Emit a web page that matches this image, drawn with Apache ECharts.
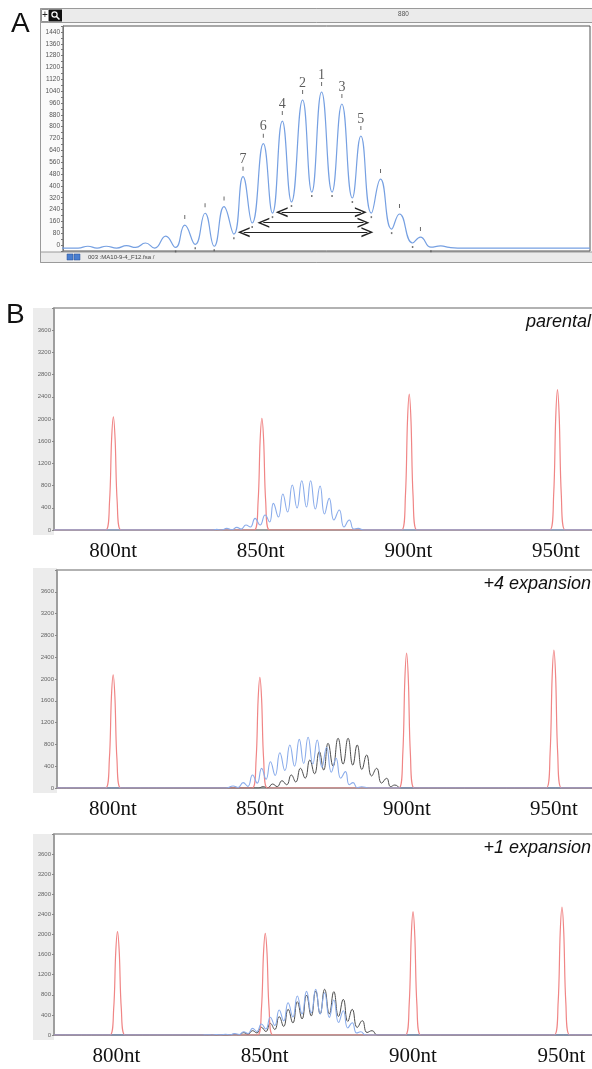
<!DOCTYPE html>
<html><head><meta charset="utf-8">
<script src="https://cdn.jsdelivr.net/npm/echarts@6/dist/echarts.min.js"></script>
<style>html,body{margin:0;padding:0;background:#fff}#c{width:592px;height:1069px}</style>
</head><body><div id="c"></div>
<script>
// ---------- Panel A (fragment analysis trace, size in nt / fluorescence units) ----------
const aTraceX = [827.7, 830.3, 831.8, 833.2, 834.6, 836.2, 837.7, 839.1, 840.6, 842.0, 843.7, 845.2, 846.6, 848.2, 849.7, 851.1, 852.6, 854.1, 855.5, 856.9, 858.6, 860.0, 861.5, 862.9, 864.6, 866.0, 867.5, 869.1, 870.6, 872.2, 873.5, 875.1, 876.5, 878.2, 879.4, 881.4, 882.6, 884.2, 885.7, 887.0, 888.3, 908.5];
const aTraceY = [-20, -20, -8, -20, -8, -20, -4, -16, 14, -20, 61, -16, 135, 5, 215, -8, 260, 74, 462, 149, 685, 216, 838, 291, 980, 358, 1034, 358, 953, 318, 737, 216, 446, 108, 210, 14, 54, -14, -6, -16, -20, -20];
const aRankX = [867.5, 864.6, 870.6, 861.5, 873.5, 858.6, 855.5];
const aRankLabel = ['1', '2', '3', '4', '5', '6', '7'];
const aArrowFrom = [861.4, 858.6, 855.6];
const aArrowTo = [873.5, 873.9, 874.5];
const aArrowY = [222, 151, 87];
const aTopTicks = [880];
const aYLabelStep = 80;

// ---------- Panel B (size standard in red, samples in blue / black) ----------
const bSizeLabels = [800, 850, 900, 950];
const bTitles = ['parental', '+4 expansion', '+1 expansion'];
const bYLabelMax = 3600;

const b1RedX = [780, 797.5, 798.8, 799.5, 800.1, 800.7, 801.4, 802.7, 847.8, 849.1, 849.8, 850.4, 851.0, 851.7, 853.0, 897.7, 899.0, 899.7, 900.3, 900.9, 901.6, 902.9, 947.9, 949.2, 949.9, 950.5, 951.1, 951.8, 953.1, 965];
const b1RedY = [0, 0, 510, 1630, 2040, 1630, 510, 0, 0, 500, 1610, 2010, 1610, 500, 0, 0, 610, 1960, 2450, 1960, 610, 0, 0, 630, 2020, 2530, 2020, 630, 0, 0];
const b1BlueX = [780, 833.5, 835.1, 836.8, 838.5, 840.2, 841.9, 843.4, 845.0, 846.5, 848.1, 849.8, 851.5, 853.0, 854.3, 856.0, 857.5, 859.1, 860.7, 862.3, 863.9, 865.5, 866.9, 868.5, 870.1, 871.6, 873.2, 874.8, 876.6, 878.2, 880.0, 881.5, 883.0, 885.0, 965];
const b1BlueY = [0, 0, 12, 0, 30, 5, 48, 15, 90, 54, 210, 90, 270, 144, 480, 234, 648, 324, 810, 396, 887, 414, 887, 378, 792, 288, 570, 180, 360, 54, 180, 18, 30, 0, 0];

const b2RedX = [781, 797.5, 798.8, 799.5, 800.1, 800.7, 801.4, 802.7, 847.4, 848.7, 849.4, 850.0, 850.6, 851.3, 852.6, 897.3, 898.6, 899.3, 899.9, 900.5, 901.2, 902.5, 947.4, 948.7, 949.4, 950.0, 950.6, 951.3, 952.6, 965];
const b2RedY = [0, 0, 520, 1660, 2074, 1660, 520, 0, 0, 510, 1620, 2031, 1620, 510, 0, 0, 620, 1980, 2477, 1980, 620, 0, 0, 630, 2030, 2532, 2030, 630, 0, 0];
const b2BlueX = [781, 838.5, 840.9, 842.6, 844.3, 845.9, 847.5, 849.1, 850.6, 852.1, 853.6, 855.2, 856.8, 858.5, 860.2, 861.8, 863.4, 864.9, 866.4, 868.0, 869.5, 871.1, 872.7, 874.3, 875.9, 877.5, 879.1, 880.4, 881.7, 883.1, 884.6, 887.0, 965];
const b2BlueY = [0, 0, 37, 10, 98, 30, 239, 90, 361, 160, 483, 230, 648, 320, 789, 400, 893, 450, 930, 440, 881, 380, 747, 290, 545, 180, 300, 60, 98, 5, 24, 0, 0];
const b2BlackX = [781, 848.0, 849.5, 851.1, 852.7, 854.3, 855.9, 857.5, 859.1, 860.7, 862.2, 863.8, 865.4, 867.0, 868.6, 870.2, 871.7, 873.2, 874.9, 876.6, 878.3, 880.0, 881.6, 883.1, 884.7, 886.3, 888.0, 889.7, 891.4, 893.1, 894.5, 895.9, 898.0, 965];
const b2BlackY = [0, 0, 0, 24, 5, 73, 25, 134, 60, 239, 110, 361, 180, 514, 260, 667, 330, 820, 400, 912, 440, 912, 420, 789, 340, 606, 220, 361, 90, 178, 25, 55, 0, 0];

const b3RedX = [779, 797.8, 799.1, 799.8, 800.4, 801.0, 801.7, 803.0, 847.6, 848.9, 849.6, 850.2, 850.8, 851.5, 852.8, 897.4, 898.7, 899.4, 900.0, 900.6, 901.3, 902.6, 947.6, 948.9, 949.6, 950.2, 950.8, 951.5, 952.8, 965];
const b3RedY = [0, 0, 510, 1640, 2056, 1640, 510, 0, 0, 510, 1620, 2024, 1620, 510, 0, 0, 610, 1960, 2454, 1960, 610, 0, 0, 640, 2040, 2547, 2040, 640, 0, 0];
const b3BlueX = [779, 829.0, 830.7, 832.2, 833.7, 835.3, 836.8, 838.3, 839.8, 841.4, 842.9, 844.4, 845.9, 847.4, 848.9, 850.4, 851.9, 853.4, 854.9, 856.4, 857.9, 859.5, 861.0, 862.6, 864.1, 865.7, 867.2, 868.7, 870.2, 871.8, 873.3, 874.9, 876.5, 878.0, 879.5, 881.0, 882.4, 884.0, 965];
const b3BlueY = [0, 0, 6, 0, 10, 2, 16, 5, 28, 10, 66, 30, 132, 70, 219, 120, 352, 190, 497, 280, 643, 360, 776, 420, 869, 440, 909, 420, 842, 350, 696, 250, 484, 140, 245, 40, 66, 0, 0];
const b3BlackX = [779, 838.0, 839.8, 841.4, 842.9, 844.4, 845.9, 847.4, 848.9, 850.4, 851.9, 853.4, 854.9, 856.4, 857.9, 859.5, 861.0, 862.6, 864.1, 865.7, 867.2, 868.7, 870.2, 871.8, 873.3, 874.9, 876.5, 878.0, 879.5, 881.2, 882.9, 884.5, 886.2, 888.0, 965];
const b3BlackY = [0, 0, 15, 5, 46, 15, 86, 40, 152, 70, 232, 110, 365, 170, 511, 240, 663, 320, 796, 380, 876, 420, 909, 420, 862, 370, 710, 270, 511, 150, 285, 50, 86, 0, 0];

// ---------- build ----------
const pairs = (xs, ys) => xs.map((x, i) => [x, ys[i]]);
const SANS = 'Liberation Sans';
const SERIF = 'Liberation Serif';
const RED = '#f08585', BLUE = '#8aaceb', BLACK = '#4d4d4d', ABLUE = '#76a0e2';
const CHEVRON = 'path://M50,0 L100,100 L84,100 L50,30 L16,100 L0,100 Z';

const aData = pairs(aTraceX, aTraceY);
const yAt = x => aData.reduce((b, p) => Math.abs(p[0] - x) < Math.abs(b[0] - x) ? p : b)[1];
const aPeaks = aData.filter((p, i) => i > 0 && i < aData.length - 1 && p[1] > aData[i-1][1] && p[1] > aData[i+1][1] && p[0] > 844 && p[0] < 884);
const aValleys = aData.filter((p, i) => i > 0 && i < aData.length - 1 && p[1] < aData[i-1][1] && p[1] < aData[i+1][1] && p[0] > 845 && p[0] < 886);

const panels = [
  {grid: {left: 54, top: 308, width: 546.3, height: 222}, min: 780, max: 965, interval: 10,
   red: pairs(b1RedX, b1RedY), blue: pairs(b1BlueX, b1BlueY), black: null, strip: [33, 308, 21, 227], titleTop: 313},
  {grid: {left: 57, top: 570, width: 541, height: 218}, min: 781, max: 965, interval: 1,
   red: pairs(b2RedX, b2RedY), blue: pairs(b2BlueX, b2BlueY), black: pairs(b2BlackX, b2BlackY), strip: [33, 568, 24, 225], titleTop: 575},
  {grid: {left: 54, top: 834, width: 551.9, height: 201}, min: 779, max: 965, interval: 1,
   red: pairs(b3RedX, b3RedY), blue: pairs(b3BlueX, b3BlueY), black: pairs(b3BlackX, b3BlackY), strip: [33, 834, 21, 206], titleTop: 839}
];

const grids = [{left: 63, top: 26, width: 527, height: 225, show: true, backgroundColor: '#fff', borderColor: '#555', borderWidth: 1, containLabel: false, outerBoundsMode: 'none'}];
const xAxes = [{
  gridIndex: 0, type: 'value', position: 'top', min: 828, max: 908.5, interval: 4,
  axisLine: {show: false}, axisTick: {show: false}, splitLine: {show: false},
  axisLabel: {margin: 9, fontSize: 6.4, fontFamily: SANS, color: '#555', formatter: v => aTopTicks.includes(v) ? String(v) : ''}
}];
const yAxes = [{
  gridIndex: 0, type: 'value', min: -40, max: 1480, interval: 40,
  axisLine: {show: true, lineStyle: {color: '#777'}}, axisTick: {show: true, length: 2, lineStyle: {color: '#777'}},
  splitLine: {show: false},
  axisLabel: {margin: 3, fontSize: 6.5, fontFamily: SANS, color: '#555', formatter: v => (v >= 0 && v % aYLabelStep === 0) ? String(v) : ''}
}];
const series = [
  {type: 'line', xAxisIndex: 0, yAxisIndex: 0, data: aData, smooth: 0.5, showSymbol: false,
   lineStyle: {color: ABLUE, width: 1.2}, z: 3,
   markLine: {silent: true, symbol: [CHEVRON, CHEVRON], symbolSize: [10, 12], label: {show: false},
     lineStyle: {color: '#222', width: 1, type: 'solid'},
     data: aArrowFrom.map((f, i) => [{coord: [f, aArrowY[i]]}, {coord: [aArrowTo[i], aArrowY[i]]}])}},
  {type: 'scatter', xAxisIndex: 0, yAxisIndex: 0, data: aPeaks, symbol: 'rect', symbolSize: [1, 4], symbolOffset: [0, -8], itemStyle: {color: '#444'}, silent: true, z: 4},
  {type: 'scatter', xAxisIndex: 0, yAxisIndex: 0, data: aValleys, symbol: 'rect', symbolSize: [1.5, 2], symbolOffset: [0, 4], itemStyle: {color: '#555'}, silent: true, z: 4},
  {type: 'scatter', xAxisIndex: 0, yAxisIndex: 0, data: aRankX.map(x => [x, yAt(x)]), symbolSize: 0, silent: true, z: 5,
   label: {show: true, position: 'top', distance: 10, fontFamily: SERIF, fontSize: 14, color: '#333', formatter: p => aRankLabel[p.dataIndex]}}
];

const graphic = [
  {type: 'rect', z: -10, shape: {x: 40.5, y: 8.5, width: 560, height: 254}, style: {fill: '#fafafa', stroke: '#9a9a9a', lineWidth: 1}},
  {type: 'rect', z: -9, shape: {x: 40.5, y: 8.5, width: 560, height: 14}, style: {fill: '#ebebeb', stroke: '#9a9a9a', lineWidth: 1}},
  {type: 'rect', z: -8, shape: {x: 41.5, y: 9.5, width: 7, height: 12}, style: {fill: '#fff', stroke: '#777', lineWidth: 0.8}},
  {type: 'text', z: 10, style: {text: '+', x: 45, y: 15.5, font: '10px ' + SANS, fill: '#222', align: 'center', verticalAlign: 'middle'}},
  {type: 'rect', z: -8, shape: {x: 49, y: 9.5, width: 13, height: 12}, style: {fill: '#111'}},
  {type: 'circle', z: 10, shape: {cx: 54.5, cy: 14.5, r: 2.6}, style: {fill: 'none', stroke: '#fff', lineWidth: 1.2}},
  {type: 'line', z: 10, shape: {x1: 56.5, y1: 16.5, x2: 59.5, y2: 19.5}, style: {stroke: '#fff', lineWidth: 1.5}},
  {type: 'rect', z: -9, shape: {x: 40.5, y: 252, width: 560, height: 10.5}, style: {fill: '#ebebeb', stroke: '#9a9a9a', lineWidth: 1}},
  {type: 'rect', z: 10, shape: {x: 67, y: 254, width: 6, height: 6}, style: {fill: '#4a7fd0', stroke: '#2a4f90', lineWidth: 0.5}},
  {type: 'rect', z: 10, shape: {x: 74, y: 254, width: 6, height: 6}, style: {fill: '#4a7fd0', stroke: '#2a4f90', lineWidth: 0.5}},
  {type: 'text', z: 10, style: {text: '003 :MA10-9-4_F12.fsa /', x: 88, y: 257.5, font: '6px ' + SANS, fill: '#444', verticalAlign: 'middle'}},
  {type: 'text', z: 10, style: {text: 'A', x: 11, y: 24, font: '28px ' + SANS, fill: '#111', verticalAlign: 'middle'}},
  {type: 'text', z: 10, style: {text: 'B', x: 6, y: 315, font: '28px ' + SANS, fill: '#111', verticalAlign: 'middle'}}
];

panels.forEach((P, k) => {
  const gi = k + 1;
  grids.push(Object.assign({show: true, backgroundColor: '#fff', borderColor: '#999', borderWidth: 1.5, containLabel: false, outerBoundsMode: 'none'}, P.grid));
  xAxes.push({
    gridIndex: gi, type: 'value', min: P.min, max: P.max, interval: P.interval,
    axisLine: {show: true, lineStyle: {color: '#999', width: 1.5}}, axisTick: {show: false}, splitLine: {show: false},
    axisLabel: {margin: 11, fontFamily: SERIF, fontSize: 21, color: '#111',
      formatter: v => { const m = bSizeLabels.find(s => Math.abs(s - v) < 0.01); return m ? m + 'nt' : ''; }}
  });
  yAxes.push({
    gridIndex: gi, type: 'value', min: 0, max: 4000, interval: 400,
    axisLine: {show: true, lineStyle: {color: '#999', width: 1.5}}, axisTick: {show: true, length: 2, lineStyle: {color: '#888'}},
    splitLine: {show: false},
    axisLabel: {margin: 3, fontSize: 6, fontFamily: SANS, color: '#666', formatter: v => v <= bYLabelMax ? String(v) : ''}
  });
  if (P.black) series.push({type: 'line', xAxisIndex: gi, yAxisIndex: gi, data: P.black, smooth: 0.5, showSymbol: false, lineStyle: {color: BLACK, width: 1}, z: 2});
  series.push({type: 'line', xAxisIndex: gi, yAxisIndex: gi, data: P.red, smooth: 0.35, showSymbol: false, lineStyle: {color: RED, width: 1.2}, z: 3});
  series.push({type: 'line', xAxisIndex: gi, yAxisIndex: gi, data: P.blue, smooth: 0.5, showSymbol: false, lineStyle: {color: BLUE, width: 1.1}, z: 4});
  graphic.push({type: 'rect', z: -10, shape: {x: P.strip[0], y: P.strip[1], width: P.strip[2], height: P.strip[3]}, style: {fill: '#ececec'}});
  graphic.push({type: 'text', z: 10, right: 1, top: P.titleTop, style: {text: bTitles[k], font: 'italic 18px ' + SANS, fill: '#111'}});
});

const chart = echarts.init(document.getElementById('c'), null, {renderer: 'canvas', width: 592, height: 1069});
chart.setOption({animation: false, grid: grids, xAxis: xAxes, yAxis: yAxes, series, graphic});
</script></body></html>
